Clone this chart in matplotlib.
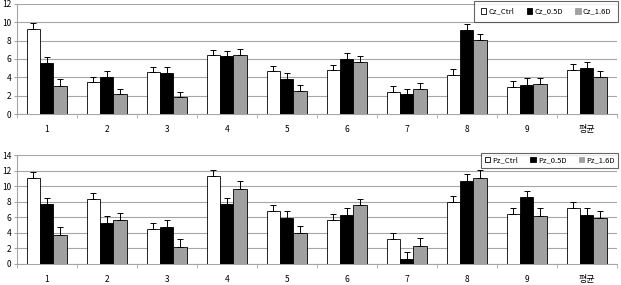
import matplotlib.pyplot as plt
import numpy as np
from matplotlib.patches import Patch
from matplotlib.ticker import MultipleLocator, FixedLocator

plt.rcParams['font.family'] = ['Noto Sans CJK KR', 'DejaVu Sans']

categories = ['1', '2', '3', '4', '5', '6', '7', '8', '9', '평균']

# Cz channel
cz_ctrl = [9.3, 3.45, 4.6, 6.45, 4.65, 4.75, 2.35, 4.2, 2.9, 4.75]
cz_05d = [5.6, 4.05, 4.5, 6.35, 3.85, 6.0, 2.15, 9.15, 3.2, 5.0]
cz_16d = [3.1, 2.15, 1.8, 6.45, 2.5, 5.7, 2.7, 8.05, 3.3, 4.0]
cz_ctrl_err = [0.63, 0.55, 0.56, 0.58, 0.62, 0.6, 0.67, 0.68, 0.65, 0.65]
cz_05d_err = [0.58, 0.64, 0.62, 0.57, 0.6, 0.6, 0.63, 0.65, 0.68, 0.63]
cz_16d_err = [0.68, 0.62, 0.65, 0.62, 0.7, 0.66, 0.67, 0.63, 0.62, 0.7]

# Pz channel
pz_ctrl = [11.0, 8.4, 4.45, 11.3, 6.85, 5.6, 3.15, 7.95, 6.45, 7.2]
pz_05d = [7.75, 5.3, 4.7, 7.7, 5.85, 6.35, 0.65, 10.7, 8.55, 6.35]
pz_16d = [3.75, 5.6, 2.2, 9.65, 4.0, 7.55, 2.3, 11.05, 6.2, 5.9]
pz_ctrl_err = [0.8, 0.78, 0.78, 0.77, 0.77, 0.8, 0.77, 0.76, 0.76, 0.78]
pz_05d_err = [0.77, 0.86, 0.9, 0.73, 0.9, 0.85, 0.82, 0.8, 0.86, 0.85]
pz_16d_err = [0.95, 0.9, 0.94, 0.95, 0.9, 0.85, 1.0, 0.97, 1.0, 0.9]

white = '#ffffff'
black = '#000000'
gray = '#a0a0a0'
grid_col = '#a6a6a6'

fig = plt.figure(figsize=(6.21, 2.85), dpi=100)
ax1 = fig.add_axes([0.027, 0.6, 0.966, 0.386])
ax2 = fig.add_axes([0.027, 0.074, 0.966, 0.382])

x = np.arange(len(categories))
w = 0.222


def draw_panel(ax, series, errs, names, ymax, leg_y, leg_pad):
    colors = [white, black, gray]
    for k, (vals, err, col) in enumerate(zip(series, errs, colors)):
        ax.bar(x + (k - 1) * w, vals, w, color=col, edgecolor='black',
               linewidth=0.6, zorder=3)
        ax.errorbar(x + (k - 1) * w, vals, yerr=[np.zeros(len(vals)), err],
                    fmt='none', ecolor='black', elinewidth=0.7, capsize=2,
                    capthick=0.7, zorder=4)
    ax.set_xlim(-0.5, len(categories) - 0.5)
    ax.set_ylim(0, ymax)
    ax.yaxis.set_major_locator(MultipleLocator(2))
    ax.grid(axis='y', color=grid_col, linewidth=0.8, zorder=0)
    ax.set_xticks(x)
    ax.set_xticklabels(categories)
    ax.xaxis.set_minor_locator(FixedLocator(np.arange(-0.5, len(categories), 1)))
    ax.tick_params(axis='x', which='major', length=0, pad=8, labelsize=6)
    ax.tick_params(axis='x', which='minor', length=3, color=grid_col)
    ax.tick_params(axis='y', length=2, color=grid_col, pad=2, labelsize=6)
    ax.get_xticklabels()[-1].set_fontsize(6.5)
    for s in ['top', 'right']:
        ax.spines[s].set_visible(False)
    for s in ['left', 'bottom']:
        ax.spines[s].set_color(grid_col)
        ax.spines[s].set_linewidth(0.8)
    handles = [Patch(facecolor=c, edgecolor=('black' if c == white else c), linewidth=0.6)
               for c in colors]
    leg = ax.legend(handles, names, loc='upper right', bbox_to_anchor=(1.003, leg_y),
                    ncol=3, fontsize=5.5, frameon=True, fancybox=False,
                    handlelength=0.7, handleheight=0.7, handletextpad=0.3,
                    columnspacing=1.6, borderpad=leg_pad, borderaxespad=0)
    leg.get_frame().set_edgecolor('#404040')
    leg.get_frame().set_linewidth(0.8)


draw_panel(ax1, [cz_ctrl, cz_05d, cz_16d], [cz_ctrl_err, cz_05d_err, cz_16d_err],
           ['Cz_Ctrl', 'Cz_0.5D', 'Cz_1.6D'], 12, 1.03, 0.9)
draw_panel(ax2, [pz_ctrl, pz_05d, pz_16d], [pz_ctrl_err, pz_05d_err, pz_16d_err],
           ['Pz_Ctrl', 'Pz_0.5D', 'Pz_1.6D'], 14, 1.02, 0.45)

fig.savefig('out.png', dpi=100)
